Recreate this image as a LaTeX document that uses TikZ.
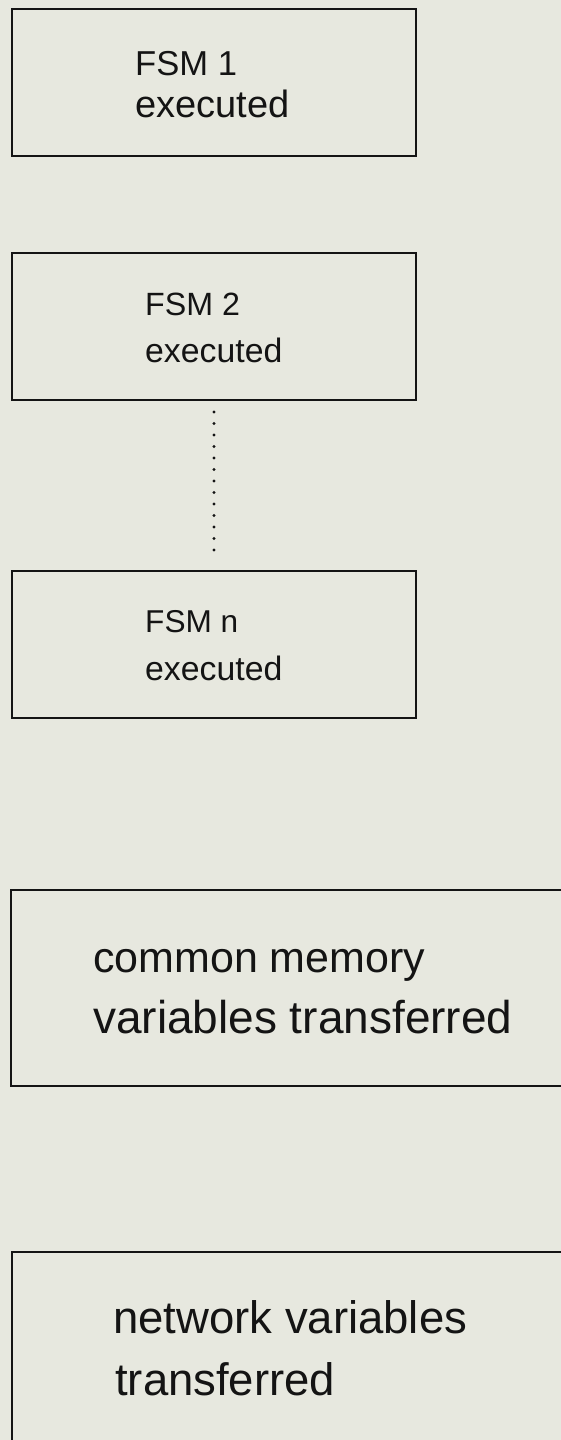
\documentclass[tikz,border=0pt]{standalone}
\usepackage{fontspec}
\setmainfont{Liberation Sans}
\definecolor{paper}{RGB}{231,232,223}
\definecolor{ink}{RGB}{20,20,20}
\newcommand{\fsz}[1]{\fontsize{#1}{#1}\selectfont}
\tikzset{
  stagebox/.style={draw=ink, line width=2pt, rectangle, inner sep=0pt,
    anchor=north west, minimum width=404pt, minimum height=147pt},
  widebox/.style={draw=ink, line width=2pt, rectangle, inner sep=0pt,
    anchor=north west, minimum width=620pt},
  lbl/.style={inner sep=0pt, anchor=base west, text=ink},
  dotline/.style={draw=ink, line width=3.4pt, line cap=round,
    dash pattern=on 0pt off 11.5pt}
}
\begin{document}
\begin{tikzpicture}[x=1pt,y=-1pt]
  \useasboundingbox (0,0) rectangle (561,1440);
  \fill[paper] (0,0) rectangle (561,1440);
  \clip (0,0) rectangle (561,1440);

  % executed state machines
  \node[stagebox] (b1) at (11,8) {};
  \node[lbl, font=\fsz{34.6}] (t1a) at (135,75) {FSM 1};
  \node[lbl, font=\fsz{38}] (t1b) at (135,117) {executed};

  \node[stagebox] (b2) at (11,252) {};
  \node[lbl, font=\fsz{32.2}] (t2a) at (145,315) {FSM 2};
  \node[lbl, font=\fsz{33.8}] (t2b) at (145,362) {executed};

  \node[stagebox] (bn) at (11,570) {};
  \node[lbl, font=\fsz{31.6}] (tna) at (145,632) {FSM n};
  \node[lbl, font=\fsz{33.8}] (tnb) at (145,680) {executed};

  % the remaining machines between FSM 2 and FSM n
  \draw[dotline] ([yshift=-11pt]b2.south) -- ([yshift=10pt]bn.north);

  % transfer phases
  \node[widebox, minimum height=196pt] (bc) at (10,889) {};
  \node[lbl, font=\fsz{43}] (tca) at (93,972) {common memory};
  \node[lbl, font=\fsz{46}] (tcb) at (93,1033) {variables transferred};

  \node[widebox, minimum height=230pt] (bw) at (11,1251) {};
  \node[lbl, font=\fsz{45.5}] (twa) at (113,1333) {network variables};
  \node[lbl, font=\fsz{45.5}] (twb) at (115,1395) {transferred};
\end{tikzpicture}
\end{document}
